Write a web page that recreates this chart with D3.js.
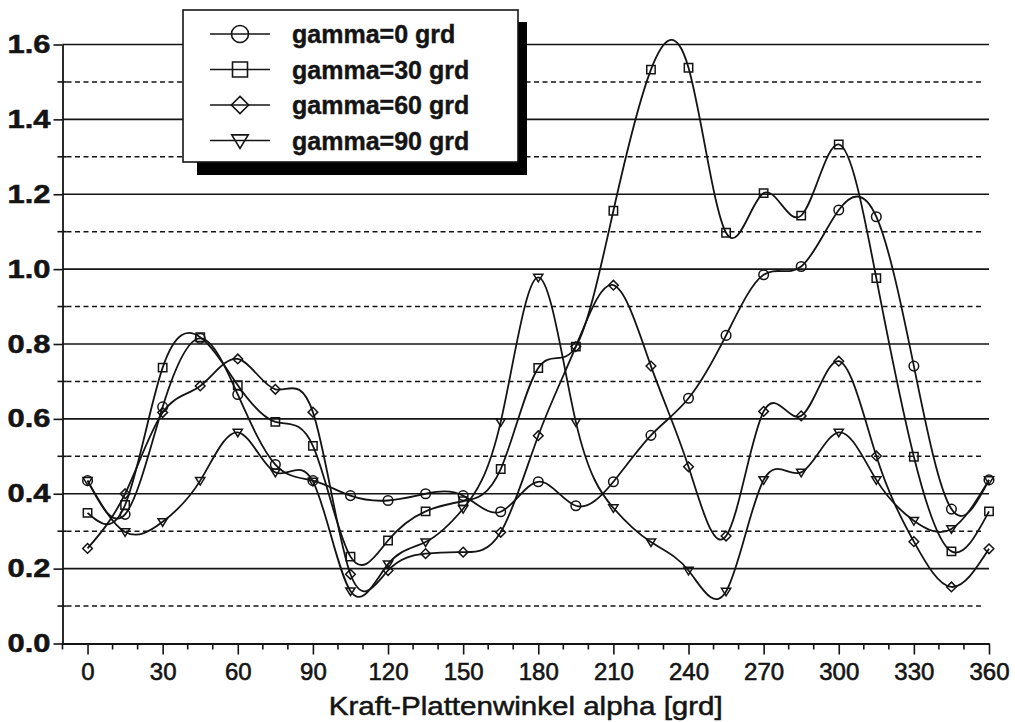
<!DOCTYPE html>
<html>
<head>
<meta charset="utf-8">
<script src="https://cdn.jsdelivr.net/npm/d3@7"></script>
<style>
  body { margin: 0; background: #fff; }
  svg { display: block; }
</style>
</head>
<body>
<svg id="chart" width="1015" height="722"></svg>
<script>
// Kraft-Plattenwinkel alpha [grd] – sampled every 15 grd
const alpha = [0, 15, 30, 45, 60, 75, 90, 105, 120, 135, 150, 165, 180,
               195, 210, 225, 240, 255, 270, 285, 300, 315, 330, 345, 360];

const gamma0 = [0.435, 0.345, 0.632, 0.815, 0.665, 0.478, 0.435, 0.395, 0.382, 0.400, 0.395, 0.352, 0.432,
                0.368, 0.432, 0.556, 0.655, 0.823, 0.985, 1.007, 1.158, 1.140, 0.741, 0.359, 0.437];
const gamma30 = [0.349, 0.370, 0.737, 0.818, 0.690, 0.592, 0.528, 0.232, 0.275, 0.353, 0.380, 0.466, 0.736,
                 0.793, 1.156, 1.533, 1.538, 1.097, 1.203, 1.143, 1.333, 0.976, 0.499, 0.246, 0.353];
const gamma60 = [0.254, 0.400, 0.617, 0.688, 0.760, 0.679, 0.618, 0.185, 0.195, 0.240, 0.244, 0.297, 0.555,
                 0.793, 0.957, 0.741, 0.472, 0.287, 0.620, 0.608, 0.754, 0.501, 0.272, 0.151, 0.253];
const gamma90 = [0.435, 0.298, 0.325, 0.435, 0.564, 0.457, 0.433, 0.140, 0.212, 0.271, 0.360, 0.592, 0.978,
                 0.592, 0.362, 0.271, 0.195, 0.139, 0.437, 0.457, 0.564, 0.437, 0.328, 0.306, 0.437];

const seriesNames = ["gamma=0 grd", "gamma=30 grd", "gamma=60 grd", "gamma=90 grd"];
const seriesMarkers = ["circle", "square", "diamond", "triangle"];

const xTickValues = [0, 30, 60, 90, 120, 150, 180, 210, 240, 270, 300, 330, 360];
const yMajorTicks = [0, 0.2, 0.4, 0.6, 0.8, 1.0, 1.2, 1.4, 1.6];
const yMinorTicks = [0.1, 0.3, 0.5, 0.7, 0.9, 1.1, 1.3, 1.5];

const ink = "#141414";
const font = "'Liberation Sans', Arial, sans-serif";
const svg = d3.select("#chart");

const x = d3.scaleLinear().domain([-10, 360]).range([62.5, 989]);
const y = d3.scaleLinear().domain([0, 1.6]).range([643.5, 44.5]);

// grid lines
svg.append("g").selectAll("line").data(yMajorTicks.slice(1)).join("line")
    .attr("x1", x(-10)).attr("x2", x(360))
    .attr("y1", d => y(d)).attr("y2", d => y(d))
    .attr("stroke", ink).attr("stroke-width", 1.6);

svg.append("g").selectAll("line").data(yMinorTicks).join("line")
    .attr("x1", x(-10) + 4).attr("x2", x(358))
    .attr("y1", d => y(d)).attr("y2", d => y(d))
    .attr("stroke", ink).attr("stroke-width", 1.6)
    .attr("stroke-dasharray", "5,3.5");

// left axis
const yAxis = svg.append("g")
    .attr("transform", `translate(${x(-10)},0)`)
    .call(d3.axisLeft(y).tickValues(yMajorTicks).tickSize(9).tickSizeOuter(0)
        .tickFormat(d3.format(".1f")));
yAxis.select(".domain").attr("stroke", ink).attr("stroke-width", 1.8);
yAxis.selectAll(".tick line").attr("stroke", ink).attr("stroke-width", 1.6);
yAxis.selectAll(".tick text")
    .attr("x", -12)
    .attr("fill", ink)
    .attr("stroke", ink).attr("stroke-width", 0.5)
    .style("font-family", font)
    .style("font-size", "25px")
    .style("font-weight", "bold")
    .attr("textLength", 43)
    .attr("lengthAdjust", "spacingAndGlyphs");

svg.append("g").selectAll("line").data(yMinorTicks).join("line")
    .attr("x1", x(-10) - 5).attr("x2", x(-10) + 4)
    .attr("y1", d => y(d)).attr("y2", d => y(d))
    .attr("stroke", ink).attr("stroke-width", 1.6);

// bottom axis
const xAxis = svg.append("g")
    .attr("transform", `translate(0,${y(0)})`)
    .call(d3.axisBottom(x).tickValues(xTickValues).tickSize(11).tickSizeOuter(0).tickPadding(8));
xAxis.select(".domain").attr("stroke", ink).attr("stroke-width", 1.8);
xAxis.selectAll(".tick line").attr("stroke", ink).attr("stroke-width", 1.6);
xAxis.selectAll(".tick text")
    .attr("fill", ink)
    .attr("stroke", ink).attr("stroke-width", 0.6)
    .style("font-family", font)
    .style("font-size", "24px");

const xMinor = d3.range(-10, 361, 10).filter(d => d % 30 !== 0);
svg.append("g").selectAll("line").data(xMinor).join("line")
    .attr("x1", d => x(d)).attr("x2", d => x(d))
    .attr("y1", y(0)).attr("y2", y(0) + 6)
    .attr("stroke", ink).attr("stroke-width", 1.6);

svg.append("text")
    .attr("x", (x(-10) + x(360)) / 2).attr("y", 715)
    .attr("text-anchor", "middle")
    .attr("fill", ink)
    .attr("stroke", ink).attr("stroke-width", 0.5)
    .style("font-family", font)
    .style("font-size", "25px")
    .attr("textLength", 394)
    .attr("lengthAdjust", "spacingAndGlyphs")
    .text("Kraft-Plattenwinkel alpha [grd]");

// markers
const markerPath = (type, s) => {
    if (type === "circle") return d3.symbol(d3.symbolCircle, Math.PI * s * s)();
    if (type === "square") return `M${-s},${-s}H${s}V${s}H${-s}Z`;
    if (type === "diamond") return `M0,${-s * 1.15}L${s * 1.15},0L0,${s * 1.15}L${-s * 1.15},0Z`;
    return `M${-s * 1.1},${-s * 0.75}H${s * 1.1}L0,${s * 1.05}Z`;
};

const allSeries = [gamma0, gamma30, gamma60, gamma90];
const line = d3.line()
    .x((d, i) => x(alpha[i]))
    .y(d => y(d))
    .curve(d3.curveNatural);

allSeries.forEach((vals, k) => {
    const g = svg.append("g");
    g.append("path")
        .attr("d", line(vals))
        .attr("fill", "none")
        .attr("stroke", ink)
        .attr("stroke-width", 1.8);
    g.selectAll("path.m").data(vals).join("path")
        .attr("class", "m")
        .attr("transform", (d, i) => `translate(${x(alpha[i])},${y(d)})`)
        .attr("d", markerPath(seriesMarkers[k], k === 0 ? 4.8 : 4.2))
        .attr("fill", "none")
        .attr("stroke", ink)
        .attr("stroke-width", 1.5);
});

// legend
const legend = svg.append("g");
legend.append("rect")
    .attr("x", 197).attr("y", 22).attr("width", 330).attr("height", 153)
    .attr("fill", "#000");
legend.append("rect")
    .attr("x", 183).attr("y", 10).attr("width", 335).attr("height", 152)
    .attr("fill", "#fff").attr("stroke", ink).attr("stroke-width", 1.6);

seriesNames.forEach((name, k) => {
    const cy = 34 + k * 35.5;
    legend.append("line")
        .attr("x1", 210).attr("x2", 270).attr("y1", cy).attr("y2", cy)
        .attr("stroke", ink).attr("stroke-width", 1.7);
    legend.append("path")
        .attr("transform", `translate(240,${cy})`)
        .attr("d", markerPath(seriesMarkers[k], k === 0 ? 8.5 : 7.5))
        .attr("fill", "none").attr("stroke", ink).attr("stroke-width", 1.6);
    legend.append("text")
        .attr("x", 292).attr("y", cy + 9)
        .attr("fill", ink)
        .attr("stroke", ink).attr("stroke-width", 0.4)
        .style("font-family", font)
        .style("font-size", "25px")
        .style("font-weight", "bold")
        .text(name);
});
</script>
</body>
</html>
